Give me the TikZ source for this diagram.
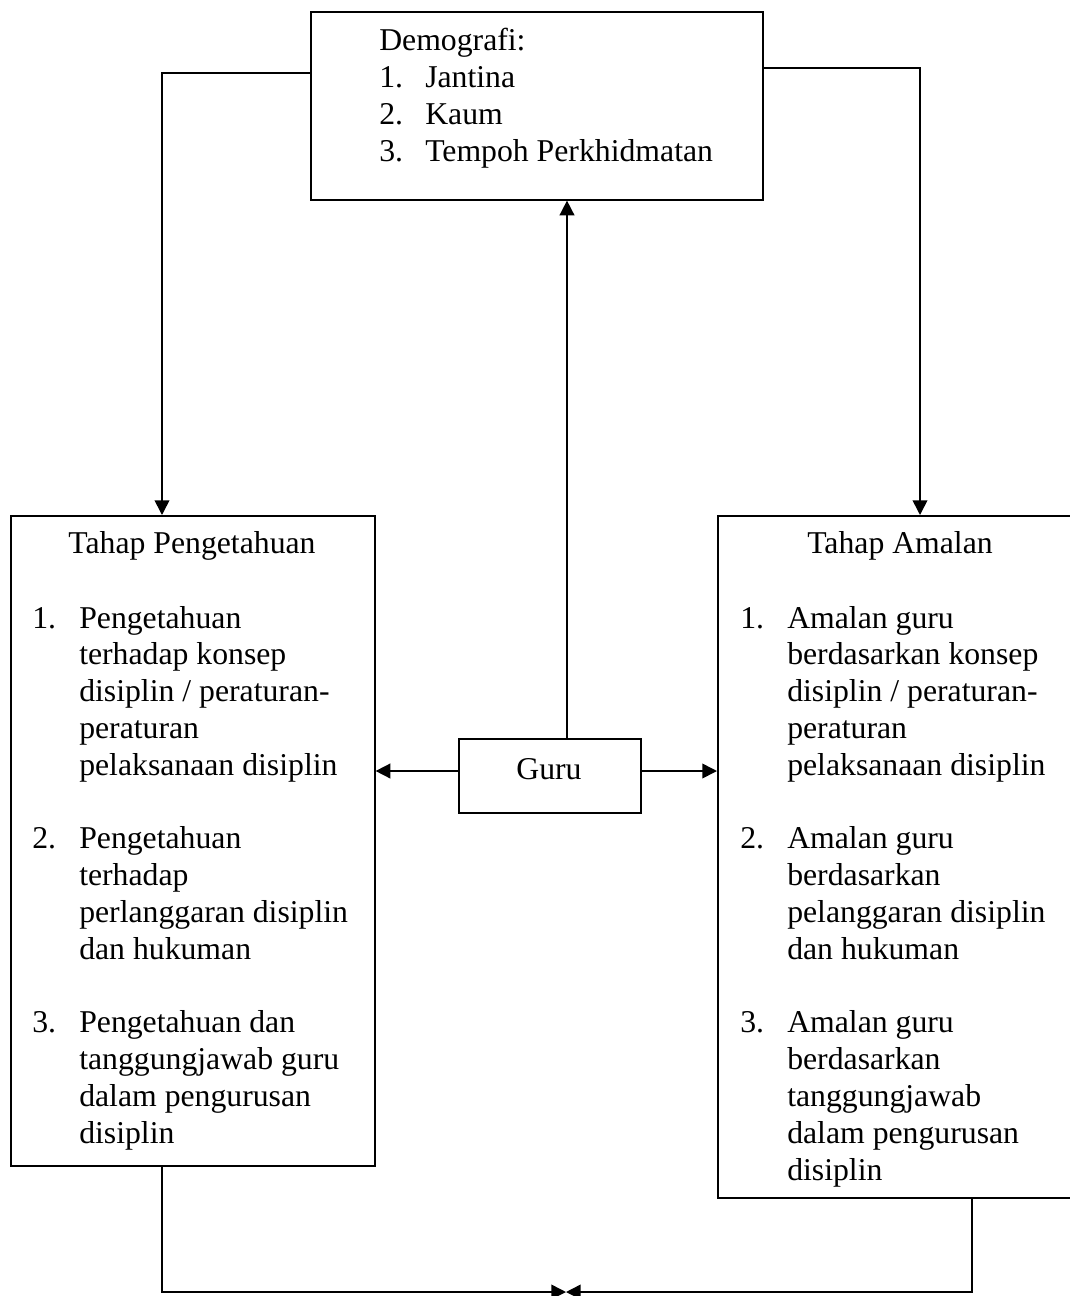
\documentclass[tikz,border=0pt]{standalone}
\usepackage{fontspec}
\setmainfont{Liberation Serif}
\usetikzlibrary{arrows.meta}
\begin{document}
\begin{tikzpicture}[x=0.75pt,y=-0.75pt,
  box/.style={draw,line width=1.2pt,anchor=north west,inner sep=0pt},
  arr/.style={line width=1.2pt,-{Triangle[length=11pt,width=11pt]}},
  txt/.style={anchor=base west,inner sep=0pt,font=\fontsize{23.8pt}{27.6pt}\selectfont},
  ttl/.style={anchor=base,inner sep=0pt,font=\fontsize{23.8pt}{27.6pt}\selectfont}]
\useasboundingbox (0,0) rectangle (1070,1296);
\clip (0,0) rectangle (1070,1296);
% boxes
\node[box,minimum width=339pt,minimum height=141pt] (demo) at (310,11) {};
\node[box,minimum width=273pt,minimum height=487.5pt] (know) at (10,515) {};
\node[box,minimum width=274.5pt,minimum height=511.5pt] (prac) at (717,515) {};
\node[box,minimum width=136.5pt,minimum height=55.5pt] (guru) at (458,738) {};
% demografi text
\node[txt] (d0) at (379,50) {Demografi:};
\node[txt] (d1n) at (379,87) {1.};   \node[txt] (d1) at (425,87) {Jantina};
\node[txt] (d2n) at (379,124) {2.};  \node[txt] (d2) at (425,124) {Kaum};
\node[txt] (d3n) at (379,161) {3.};  \node[txt] (d3) at (425,161) {Tempoh Perkhidmatan};
% guru text
\node[ttl] (g) at (549,779) {Guru};
% left box text
\node[ttl] (kt) at (192,553) {Tahap Pengetahuan};
\node[txt] (k1n) at (32,628) {1.};
\node[txt] (k1a) at (79,628) {Pengetahuan};
\node[txt] (k1b) at (79,664.8) {terhadap konsep};
\node[txt] (k1c) at (79,701.6) {disiplin / peraturan-};
\node[txt] (k1d) at (79,738.4) {peraturan};
\node[txt] (k1e) at (79,775.2) {pelaksanaan disiplin};
\node[txt] (k2n) at (32,848.8) {2.};
\node[txt] (k2a) at (79,848.8) {Pengetahuan};
\node[txt] (k2b) at (79,885.6) {terhadap};
\node[txt] (k2c) at (79,922.4) {perlanggaran disiplin};
\node[txt] (k2d) at (79,959.2) {dan hukuman};
\node[txt] (k3n) at (32,1032.8) {3.};
\node[txt] (k3a) at (79,1032.8) {Pengetahuan dan};
\node[txt] (k3b) at (79,1069.6) {tanggungjawab guru};
\node[txt] (k3c) at (79,1106.4) {dalam pengurusan};
\node[txt] (k3d) at (79,1143.2) {disiplin};
% right box text
\node[ttl] (pt) at (900,553) {Tahap Amalan};
\node[txt] (p1n) at (740,628) {1.};
\node[txt] (p1a) at (787,628) {Amalan guru};
\node[txt] (p1b) at (787,664.8) {berdasarkan konsep};
\node[txt] (p1c) at (787,701.6) {disiplin / peraturan-};
\node[txt] (p1d) at (787,738.4) {peraturan};
\node[txt] (p1e) at (787,775.2) {pelaksanaan disiplin};
\node[txt] (p2n) at (740,848.8) {2.};
\node[txt] (p2a) at (787,848.8) {Amalan guru};
\node[txt] (p2b) at (787,885.6) {berdasarkan};
\node[txt] (p2c) at (787,922.4) {pelanggaran disiplin};
\node[txt] (p2d) at (787,959.2) {dan hukuman};
\node[txt] (p3n) at (740,1032.8) {3.};
\node[txt] (p3a) at (787,1032.8) {Amalan guru};
\node[txt] (p3b) at (787,1069.6) {berdasarkan};
\node[txt] (p3c) at (787,1106.4) {tanggungjawab};
\node[txt] (p3d) at (787,1143.2) {dalam pengurusan};
\node[txt] (p3e) at (787,1180) {disiplin};
% helper coordinates
\coordinate (yL) at (0,73);
\coordinate (yR) at (0,68);
\coordinate (xL) at (162,0);
\coordinate (xR) at (920,0);
\coordinate (xM) at (567,0);
\coordinate (yG) at (0,771);
\coordinate (xB) at (972,0);
\coordinate (meet) at (566,1292);
% connectors
\draw[arr] (demo.west |- yL) -| (know.north -| xL);
\draw[arr] (demo.east |- yR) -| (prac.north -| xR);
\draw[arr] (guru.north -| xM) -- (demo.south -| xM);
\draw[arr] (guru.west |- yG) -- (know.east |- yG);
\draw[arr] (guru.east |- yG) -- (prac.west |- yG);
\draw[arr] (know.south -| xL) |- (meet);
\draw[arr] (prac.south -| xB) |- (meet);
\end{tikzpicture}
\end{document}
